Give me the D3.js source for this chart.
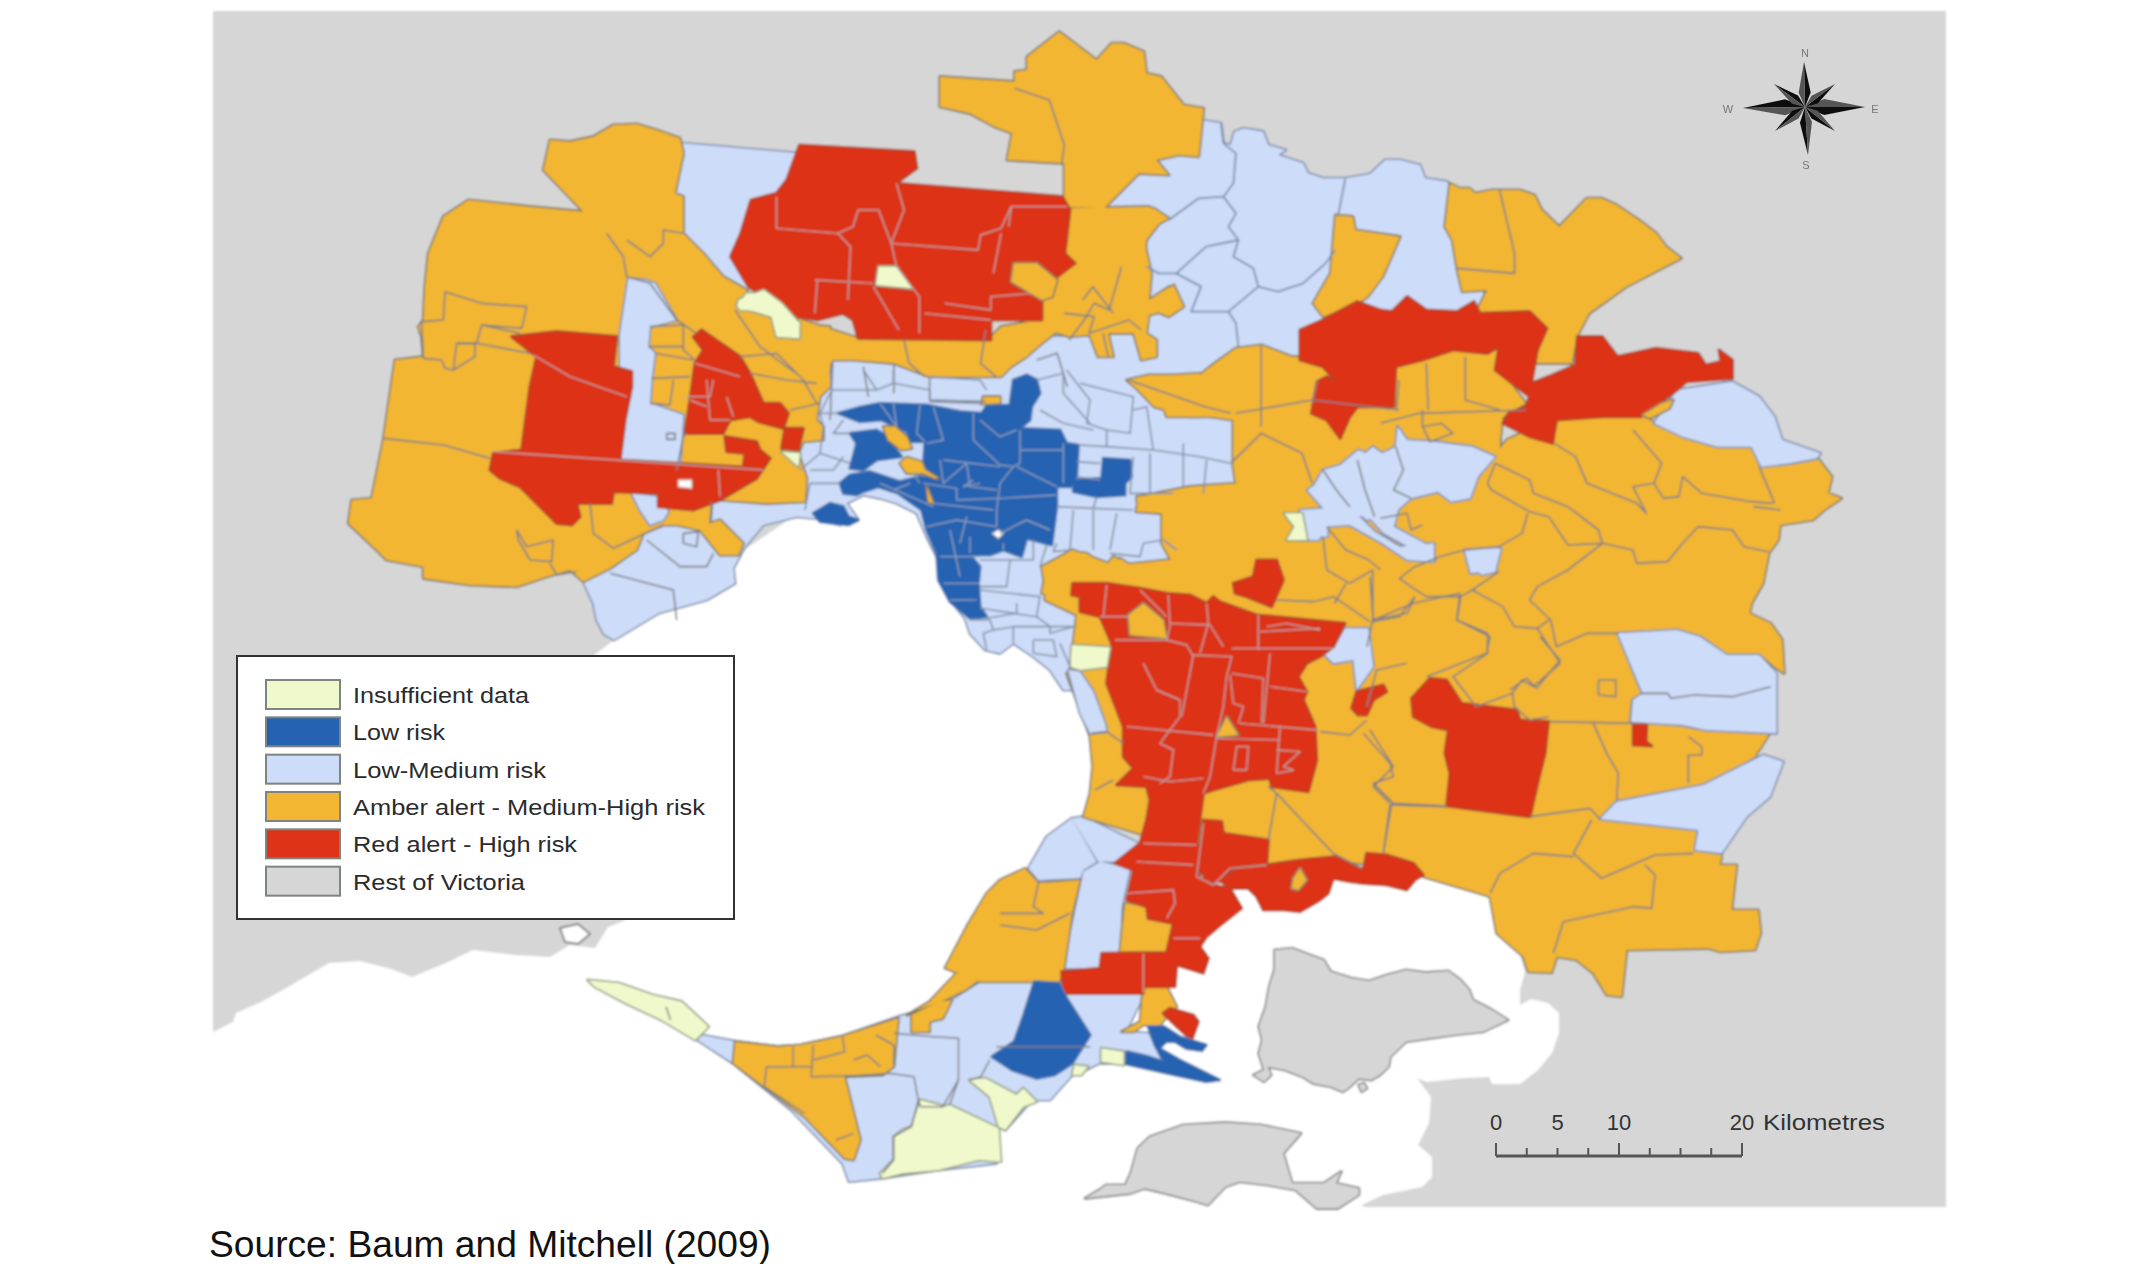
<!DOCTYPE html>
<html>
<head>
<meta charset="utf-8">
<title>Risk map of Melbourne</title>
<script src="https://cdn.jsdelivr.net/npm/d3@7"></script>
<style>
  html, body { margin: 0; padding: 0; background: #fff; }
  text { font-family: "Liberation Sans", Arial, sans-serif; }
</style>
</head>
<body>
<div id="map"></div>
<script>
// legend
var riskClasses = ["none", "low", "lowmed", "amber", "red", "rest"];
var riskLabels = ["Insufficient data", "Low risk", "Low-Medium risk", "Amber alert - Medium-High risk", "Red alert - High risk", "Rest of Victoria"];
var riskColors = ["#f0f9cb", "#2662b2", "#cddcf8", "#f2b632", "#de3318", "#d6d6d6"];
var riskStrokes = ["#8f9a80", "#4f78ad", "#7d8ead", "#7f7a68", "#a84a32", "#85858a"];

// scale bar
var kmTicks = [0, 2.5, 5, 7.5, 10, 12.5, 15, 17.5, 20];
var kmMajor = [0, 10, 20];
var kmLabels = [0, 5, 10, 20];
var kmUnit = "Kilometres";
var sourceNote = "Source: Baum and Mitchell (2009)";

var seaOutline = [213,1032, 233,1022, 236,1013, 261,1002, 281,991, 305,977, 329,963, 360,961, 391,969, 412,977, 446,963, 473,950, 515,955, 550,957, 570,945, 595,948, 608,927, 626,920, 640,900, 620,700, 593,656, 614,640, 700,580, 800,512, 870,495, 925,510, 945,560, 960,600, 980,635, 1020,640, 1055,668, 1080,680, 1090,715, 1098,767, 1095,810, 1120,860, 1300,870, 1400,870, 1470,875, 1500,890, 1525,972, 1520,990, 1520,1005, 1531,999, 1548,1003, 1559,1013, 1559,1033, 1552,1053, 1538,1070, 1520,1084, 1492,1084, 1489,1077, 1464,1078, 1446,1080, 1427,1082, 1417,1078, 1431,1097, 1429,1123, 1418,1145, 1432,1157, 1432,1177, 1422,1187, 1383,1195, 1362,1205, 1366,1210, 213,1210];
var inletBlob = [560,928, 578,924, 590,934, 578,944, 565,942];
var islandsRest = [
  [640,150, 690,145, 740,165, 780,180, 800,215, 860,235, 910,243, 960,225, 1015,210, 1070,218, 1135,213, 1170,240, 1195,270, 1205,300, 1260,330, 1305,360, 1235,395, 1150,405, 1080,415, 1015,425, 970,470, 965,500, 940,525, 915,540, 880,535, 855,560, 835,575, 800,560, 750,550, 720,530, 670,510, 620,500, 630,525, 610,545, 580,525, 610,510, 595,460, 605,420, 595,380, 615,320, 625,260, 640,210],
  [100,895, 140,870, 160,855, 215,855, 230,820, 250,745, 285,710, 380,675, 500,668, 600,675, 715,700, 665,760, 690,850, 780,850, 830,815, 815,850, 880,865, 880,885, 820,925, 760,925, 700,870, 620,855, 540,845, 500,860, 450,915, 420,905, 330,880, 270,865, 230,880],
  [880,555, 895,550, 903,565, 888,575]
];

var lowmedNorth = [[565,300, 605,310, 610,370, 625,375, 632,335, 650,325, 690,335, 700,375, 735,390, 720,405, 770,430, 780,460, 810,475, 855,475, 905,462, 935,420, 965,420, 1005,435, 1015,475, 1060,485, 1150,900, 760,1020, 360,1020, 360,560]];
var lowmedWestTop = [[1060,70, 1410,100, 1400,400, 1250,510, 1180,470, 1060,340, 1030,220, 1055,70]];
var lowmedSouthWest = [[760,1385, 790,1450, 800,1500, 822,1542, 852,1560, 987,1479, 1130,1440, 1215,1390, 1210,1345, 1245,1280, 1300,1215, 1400,1190, 1500,1200, 1500,1100, 1150,1100, 1000,1200]];
var lowmedMetro = [[-100,-100, 1350,-100, 1350,960, 790,960, 750,900, 700,860, 640,820, 600,850, 555,840, 510,790, 495,745, 450,690, 420,630, 415,570, 380,500, 350,430, 290,400, 240,385, 190,375, 140,400, 175,450, 120,465, 60,450, 40,425, 0,430, -100,440]];
var lowmedBays = [
  [85,925, 140,830, 215,775, 290,905, 250,930, 240,955, 115,960],
  [215,775, 250,770, 415,850, 345,905, 295,905],
  [250,935, 300,905, 390,925, 365,1040, 360,1175, 300,1180, 300,1225, 190,1225, 245,960]
];
var lowmedPeninsula = [[340,345, 420,365, 510,380, 560,375, 650,350, 780,290, 890,250, 985,170, 1145,185, 1145,225, 1330,225, 1290,335, 1340,340, 1370,420, 1290,395, 1285,430, 1230,430, 1200,450, 1170,465, 1120,540, 1080,540, 1020,630, 1005,620, 1000,730, 870,750, 740,775, 670,785, 655,730, 540,570, 410,430, 330,360]];

var amberWest = [[640,150, 660,60, 720,65, 790,50, 850,15, 920,12, 980,30, 1050,55, 1060,100, 1035,220, 1060,230, 1060,340, 1120,400, 1180,470, 1250,510, 1260,600, 1500,620, 1500,800, 1470,830, 1460,900, 1480,920, 1480,960, 1420,965, 1405,1000, 1430,1075, 1425,1145, 1310,1150, 1170,1140, 1145,1150, 1140,1210, 1170,1200, 1240,1270, 1225,1305, 1170,1305, 1110,1230, 1040,1215, 1000,1215, 940,1240, 920,1290, 890,1310, 840,1345, 760,1385, 720,1350, 650,1370, 560,1400, 420,1395, 280,1375, 280,1340, 170,1320, 140,1290, 55,1210, 65,1140, 125,1135, 160,960, 195,720, 280,710, 275,650, 265,620, 280,600, 285,500, 295,400, 340,290, 415,240, 600,260, 760,275]];
var amberNorthBand = [
  [0,500, 70,580, 200,660, 310,715, 565,720, 590,680, 670,660, 710,590, 690,530, 720,490, 710,400, 730,325, 880,320, 910,350, 875,420, 870,490, 880,600, 920,560, 945,620, 880,645, 875,700, 895,720, 895,770, 865,780, 850,700, 800,700, 810,770, 780,770, 760,690, 720,670, 670,730, 640,770, 610,800, 590,830, 550,830, 450,830, 380,790, 300,780, 260,780, 240,840, 220,880, 200,1010, 0,1010],
  [840,840, 880,825, 960,850, 1000,800, 1050,745, 1100,735, 1160,770, 1568,770, 1568,1500, 680,1500, 670,1400, 730,1350, 800,1390, 810,1370, 880,1420, 930,1400, 905,1330, 905,1240, 855,1235, 860,1190, 960,1160, 1050,1150, 1045,1100, 1045,960, 1000,950, 960,950, 890,920]
];
var amberTop = [
  [40,170, 190,185, 190,155, 215,150, 215,110, 280,35, 355,120, 385,70, 410,70, 450,95, 455,160, 485,170, 530,255, 570,265, 560,410, 520,405, 475,420, 500,465, 440,460, 370,565, 290,560, 290,430, 175,420, 185,340, 150,320, 100,280, 40,260],
  [300,565, 470,565, 500,595, 470,620, 450,660, 465,760, 460,850, 510,795, 530,860, 500,890, 455,860, 450,930, 300,950, 200,900, 285,700],
  [835,585, 870,590, 875,630, 965,650, 930,770, 900,830, 880,850, 810,890, 790,850, 825,760],
  [1065,490, 1085,505, 1105,505, 1115,520, 1150,510, 1205,510, 1235,525, 1250,570, 1285,620, 1340,535, 1370,535, 1400,555, 1445,600, 1480,640, 1500,680, 1530,715, 1420,800, 1345,880, 1320,950, 1310,1030, 1070,1030, 1100,990, 1120,870, 1140,810, 1090,815, 1080,750, 1070,660, 1055,620]
];
var amberEast = [
  [250,350, 320,330, 400,300, 490,310, 590,460, 530,500, 520,600, 500,620, 450,600, 350,570, 260,540, 210,610, 150,570, 130,500, 250,470],
  [540,570, 670,500, 790,500, 900,500, 930,520, 1000,560, 1090,590, 1180,590, 1200,650, 1280,640, 1350,620, 1390,680, 1380,730, 1415,745, 1370,780, 1340,810, 1255,825, 1250,870, 1225,910, 1210,1000, 1180,1060, 1175,1090, 1230,1120, 1260,1170, 1265,1270, 1240,1250, 1205,1215, 1115,1215, 1045,1160, 990,1140, 830,1150, 880,1300, 895,1330, 865,1350, 860,1415, 1000,1430, 1060,1445, 1230,1445, 1200,1500, 1000,1600, 0,1600, 0,870, 130,820, 280,760, 400,740, 440,745, 500,630]
];
var amberMetro = [
  [725,670, 740,590, 800,590, 805,545, 860,550, 880,565, 945,605, 960,565, 1010,600, 1130,620, 1200,680, 1200,780, 830,800, 830,730, 795,690],
  [1010,380, 1130,378, 1170,350, 1200,350, 1200,680, 1135,630, 1130,560, 1085,480, 1100,420, 1015,420],
  [980,30, 1050,15, 1120,15, 1200,10, 1200,140, 1100,140, 1090,110, 1040,80],
  [550,80, 600,80, 600,100, 545,102]
];
var amberSouth = [
  [220,30, 500,0, 1500,0, 1500,1000, 1270,945, 1220,930, 1010,900, 800,915, 590,900, 450,830, 250,770, 270,700, 278,620, 270,530, 240,450, 200,340, 210,335, 220,250, 230,165, 135,120, 140,30],
  [-40,1000, 0,960, 75,925, 115,970, 240,960, 215,1065, 190,1240, 175,1265, -60,1265, -165,1224, -100,1100],
  [375,1030, 440,1040, 440,1080, 525,1085, 500,1175, 360,1175],
  [430,1280, 500,1280, 530,1340, 500,1370, 480,1395, 430,1395, 400,1415, 365,1415, 420,1385]
];
var amberSouthEast = [[0,320, 850,310, 1020,330, 1130,325, 1250,345, 1215,410, 1130,460, 1060,495, 800,545, 755,595, 1045,630, 1035,690, 1115,705, 1110,735, 1160,735, 1145,870, 1225,870, 1232,940, 1215,990, 1110,995, 1075,985, 830,990, 815,1130, 770,1125, 730,1060, 680,1020, 620,1010, 605,1058, 535,1055, 520,1010, 440,940, 420,830, 405,825, 220,770, 100,700, 0,690]];
var amberPeninsula = [
  [415,365, 510,380, 560,375, 650,350, 780,295, 770,440, 745,465, 660,470, 695,660, 680,720, 660,715, 570,590, 480,500, 410,430],
  [810,285, 870,245, 900,240, 880,295, 850,305, 850,335, 810,335],
  [910,160, 975,165, 930,210, 875,245, 820,270, 800,285, 850,245]
];

// pockets of low-medium that sit inside the amber masses
var lowmedOverWest = [
  [895,475, 945,480, 975,490, 1040,600, 960,620, 955,680, 975,700, 965,780, 960,850, 1060,885, 1050,1040, 870,1020, 870,640],
  [905,1120, 985,1130, 1015,1175, 1000,1200, 960,1215, 930,1170]
];
var lowmedOverEast = [
  [255,530, 280,570, 350,575, 450,590, 510,620, 465,680, 445,745, 395,755, 360,725, 290,745, 250,785, 175,810, 130,770, 70,725, 30,720, 60,660, 150,630, 190,590, 215,610, 250,590],
  [0,780, 130,770, 195,845, 260,890, 350,880, 350,935, 280,930, 215,880, 130,825, 60,830, 50,870, 0,870],
  [430,900, 525,895, 510,965, 475,975, 440,945],
  [830,1150, 985,1140, 1045,1160, 1115,1215, 1200,1215, 1245,1270, 1245,1450, 1060,1440, 1000,1425, 865,1415, 870,1350, 895,1330],
  [1130,395, 1200,440, 1240,500, 1260,570, 1360,610, 1350,625, 1280,640, 1205,650, 1180,590, 1090,590, 1000,560, 925,520, 985,420]
];
var lowmedOverNorth = [
  [1190,1170, 1220,1140, 1290,1050, 1340,1080, 1360,1130, 1340,1170, 1370,1220, 1360,1280, 1420,1330, 1440,1380, 1400,1350, 1340,1300, 1310,1250, 1230,1240],
  [1190,1230, 1230,1240, 1230,1310, 1190,1310],
  [1500,1350, 1560,1345, 1560,1410, 1510,1420]
];
var lowmedOverSouth = [
  [1035,205, 1105,205, 1120,320, 1070,390, 1060,300, 1000,310, 970,280, 1010,250],
  [205,330, 240,335, 280,395, 315,490, 320,515, 270,520, 240,460]
];
var lowmedOverSouthEast = [[750,597, 800,545, 1060,495, 1240,405, 1300,425, 1260,530, 1190,590, 1115,700, 1035,690, 1045,630]];

var redWest = [
  [545,650, 680,635, 860,650, 850,740, 905,755, 905,800, 885,900, 870,1020, 1300,1045, 1280,1075, 1170,1140, 1090,1170, 985,1160, 985,1120, 850,1115, 845,1150, 740,1150, 750,1190, 725,1215, 680,1210, 620,1150, 570,1100, 510,1075, 480,1050, 490,1000, 575,990, 600,800, 620,710],
  [1115,630, 1230,710, 1260,760, 1300,850, 1350,850, 1375,880, 1360,925, 1285,905, 1260,890, 1200,900, 1180,940, 1065,940, 1080,840, 1095,730, 1120,690, 1090,650],
  [1365,925, 1420,925, 1405,990, 1355,985],
  [1185,950, 1280,965, 1290,990, 1320,1015, 1300,1045, 1240,1040, 1245,1000, 1190,995]
];
var redNorth = [[195,135, 420,155, 425,205, 385,250, 710,290, 725,330, 715,460, 735,490, 700,530, 660,490, 615,490, 610,540, 670,590, 670,660, 570,660, 570,720, 310,715, 300,660, 280,640, 230,660, 190,650, 95,560, 60,470, 80,400, 100,300, 150,280, 170,240]];
var redEast = [[0,240, 60,210, 150,155, 210,180, 240,185, 280,140, 330,180, 410,185, 455,155, 470,190, 600,185, 645,235, 620,300, 605,400, 660,375, 720,345, 725,260, 790,260, 830,320, 930,295, 1040,310, 1060,345, 1100,335, 1095,300, 1130,330, 1130,385, 1010,395, 985,420, 940,460, 890,500, 790,500, 670,510, 660,580, 600,560, 530,520, 545,490, 590,470, 600,440, 510,360, 520,290, 490,310, 400,300, 320,330, 250,350, 245,470, 150,470, 130,500, 105,565, 70,510, 30,490, 45,395, 70,380, 100,400, 60,350, 0,330]];
var redSouth = [
  [218,70, 320,70, 420,85, 500,100, 570,105, 620,130, 640,110, 660,125, 770,165, 1035,190, 1000,260, 960,290, 920,310, 895,350, 920,395, 910,420, 945,500, 950,600, 925,695, 815,680, 810,655, 745,660, 640,690, 610,700, 590,850, 600,860, 590,910, 600,955, 640,975, 690,985, 725,1045, 655,1100, 620,1130, 600,1160, 625,1195, 610,1240, 530,1215, 525,1280, 430,1280, 430,1300, 190,1300, 185,1235, 300,1225, 305,1180, 500,1178, 520,1090, 445,1075, 440,1040, 380,1020, 400,930, 345,910, 420,850, 440,780, 450,720, 440,680, 350,675, 400,625, 370,590, 370,500, 320,370, 335,250, 300,170, 240,155, 240,110, 215,105],
  [610,780, 665,785, 670,820, 805,840, 800,910, 700,920, 665,965, 620,965, 590,910, 600,860],
  [665,965, 710,925, 800,915, 900,900, 1010,890, 1090,930, 1100,880, 1160,885, 1240,910, 1270,945, 1245,960, 1220,990, 1160,975, 1090,970, 1050,965, 1000,955, 985,1000, 960,1020, 900,1055, 850,1050, 790,1050, 770,1010, 745,985, 690,985],
  [700,70, 760,50, 770,0, 830,0, 850,60, 815,140, 740,110, 705,100],
  [1055,445, 1070,395, 1150,375, 1160,395, 1120,420, 1100,465, 1075,465],
  [490,1360, 510,1345, 580,1365, 595,1385, 575,1440, 530,1400]
];
var redSouthEast = [
  [240,175, 290,180, 335,250, 500,270, 510,300, 595,305, 585,400, 565,480, 540,590, 290,558, 300,460, 285,400, 295,330, 245,320, 190,290, 185,235],
  [850,315, 890,315, 888,365, 905,378, 850,375]
];

// amber that is left standing inside the red
var amberOverNorth = [[615,490, 660,490, 700,540, 690,590, 670,600, 610,545]];
var amberOverSouth = [
  [385,165, 430,130, 490,180, 500,235, 390,225],
  [650,530, 680,470, 715,525],
  [880,955, 900,925, 920,960, 895,990, 875,985]
];
var amberOverEast = [[895,495, 945,460, 975,450, 965,475, 915,505]];
var amberOverMetro = [
  [250,170, 285,170, 320,200, 335,235, 305,240, 265,210],
  [300,280, 320,262, 365,275, 375,300, 415,325, 405,325, 370,310, 320,310],
  [380,350, 400,400, 385,395]
];

var lowMetro = [
  [115,130, 180,112, 240,100, 380,105, 480,125, 545,130, 560,108, 630,105, 640,30, 680,15, 710,30, 720,70, 695,110, 690,150, 660,175, 780,180, 800,220, 835,225, 830,320, 815,350, 770,350, 770,410, 755,525, 680,505, 665,560, 610,540, 570,555, 510,555, 540,590, 535,640, 540,710, 560,740, 510,745, 450,695, 415,630, 410,550, 380,480, 365,420, 295,370, 235,350, 190,365, 170,375, 130,370, 120,340, 150,315, 210,305, 300,335, 360,320, 405,325, 370,290, 375,215, 330,215, 320,185, 245,150, 180,155],
  [150,190, 230,180, 255,195, 265,210, 305,260, 230,270, 190,300, 150,295, 165,240, 170,220],
  [40,430, 90,400, 130,410, 145,440, 175,450, 145,465, 100,460, 60,455],
  [820,330, 905,325, 910,265, 990,270, 995,320, 975,340, 975,375, 890,380, 820,365]
];
var lowMetroHole = [[575,490, 595,478, 612,490, 595,507]];
var lowPeninsula = [
  [1085,185, 1140,190, 1155,230, 1210,345, 1170,430, 1130,465, 1090,475, 1035,450, 990,410, 1040,365, 1060,290],
  [1340,320, 1375,320, 1410,350, 1470,375, 1460,392, 1425,385, 1400,365, 1380,365, 1365,385, 1410,420, 1500,480, 1470,485, 1400,465, 1290,432, 1292,395, 1340,410, 1375,425, 1355,375]
];

var noneWest = [
  [1220,555, 1250,520, 1310,520, 1340,570, 1410,610, 1395,655, 1340,640, 1320,575, 1230,570],
  [1355,995, 1410,1000, 1405,1040]
];
var noneNorth = [
  [350,500, 385,500, 415,565, 345,555],
  [75,600, 125,570, 160,610, 195,670, 195,715, 150,710, 140,650, 75,620],
  [1145,1240, 1180,1240, 1190,1320, 1150,1320, 1165,1280]
];
var noneSouth = [[215,255, 330,262, 320,320, 240,330, 212,320]];
var nonePeninsula = [
  [85,180, 155,190, 230,225, 295,245, 355,320, 325,360, 250,300, 170,250, 100,200],
  [740,760, 770,720, 770,650, 790,630, 810,620, 830,540, 885,560, 895,555, 1005,625, 1010,725, 960,720, 870,750, 790,760, 745,775],
  [940,480, 975,475, 1045,525, 1060,505, 1090,545, 1060,560, 1020,630, 1005,620, 985,530],
  [1175,435, 1205,440, 1190,465, 1170,465],
  [1235,385, 1285,395, 1285,435, 1235,425]
];
var westHole = [[1045,1080, 1085,1080, 1085,1105, 1045,1100]];

// boundaries inside the classes
var bordersNorthLight = [
  [605,310, 610,370, 635,400, 630,490, 610,530, 635,580, 620,620, 640,660, 630,710, 670,745, 680,800, 720,815, 770,790, 815,730, 835,690],
  [610,530, 560,535, 500,600],
  [640,660, 575,680, 515,760, 480,760, 455,740],
  [515,760, 565,800, 545,875, 620,875, 680,800],
  [620,875, 635,910, 640,980],
  [855,475, 840,590]
];
var bordersNorthAmber = [
  [190,205, 260,240, 290,375, 285,430],
  [1165,510, 1195,700, 1195,760, 1080,745],
  [300,960, 330,900, 350,850, 380,870, 405,740],
  [290,880, 350,890, 340,940, 420,900, 445,930]
];
var bordersWest = [
  [160,955, 340,975, 480,1015],
  [1145,1145, 1140,1210],
  [345,515, 440,545, 455,550, 590,560, 575,625, 455,615, 440,670, 380,670, 370,750, 345,745, 335,720, 280,715, 275,605, 340,600, 345,515],
  [455,615, 570,640],
  [440,670, 600,700],
  [380,670, 435,670, 435,710, 370,750],
  [560,1230, 590,1280, 670,1260, 665,1325, 600,1320, 565,1260, 560,1230],
  [780,1150, 790,1240, 850,1285, 1000,1215],
  [660,1330, 680,1365, 740,1355],
  [830,340, 880,410, 890,470, 960,490, 1040,600, 1100,640],
  [890,360, 960,410, 1000,370, 1000,330, 1060,340],
  [960,620, 1060,615, 1060,690, 1095,720],
  [955,680, 1060,680],
  [975,700, 1090,720],
  [965,775, 1080,770],
  [960,850, 1020,855, 1030,780],
  [1040,1050, 1060,950, 1070,940],
  [1230,710, 1340,700, 1420,780, 1460,850],
  [1260,760, 1370,780, 1460,790],
  [1380,870, 1470,850],
  [1215,570, 1290,680, 1370,740, 1400,760],
  [840,1360, 1030,1410, 1040,1500],
  [950,1260, 1050,1340, 1130,1340, 1150,1300],
  [1060,1240, 1105,1235, 1100,1280, 1060,1270, 1060,1240],
  [1010,940, 1035,940, 1035,958, 1010,958, 1010,940]
];
var bordersWestRed = [
  [610,705, 720,770, 890,830],
  [490,995, 1300,1050],
  [1165,1050, 1170,1130],
  [1095,730, 1230,770],
  [1130,780, 1140,900, 1200,900],
  [1150,780, 1140,830, 1065,830],
  [1190,830, 1210,890],
  [1080,840, 1130,860]
];
var bordersEast = [
  [510,640, 600,690, 610,730, 700,770, 780,840, 790,880, 700,885, 650,800, 600,785, 500,720, 490,700, 510,640],
  [665,580, 720,620, 750,700, 880,760, 905,790, 870,710, 925,700, 945,640, 870,540],
  [925,700, 950,745, 990,740, 1000,680, 1050,730, 1180,755, 1235,760],
  [1185,770, 1255,780],
  [1200,650, 1240,760],
  [790,880, 870,900, 880,940, 960,935, 1000,880, 1040,830, 1130,840, 1160,890, 1225,905],
  [790,880, 700,960, 620,1010, 600,1050, 655,1110, 670,1190, 750,1150, 830,1150],
  [595,790, 580,850, 520,890, 430,900, 365,920],
  [520,965, 450,1020, 530,1070, 560,1130, 620,1135, 650,1110],
  [450,1020, 420,1040, 330,1040, 290,1010, 260,985, 300,950, 365,920],
  [420,1040, 410,1110, 490,1150, 490,1210, 400,1280, 460,1370, 555,1330, 560,1370, 600,1410, 650,1400],
  [175,1190, 190,1110, 280,1090, 300,1040],
  [620,1135, 680,1240, 610,1310, 580,1290, 555,1330],
  [210,520, 310,490, 590,480],
  [320,480, 320,530, 370,520, 400,550, 340,575, 320,530],
  [330,340, 335,480],
  [780,1290, 825,1290, 825,1340, 780,1335, 780,1290],
  [890,1330, 960,1330, 970,1345, 1030,1335, 1130,1340, 1230,1310],
  [210,805, 280,790, 290,840, 320,825],
  [60,860, 70,960, 130,1000, 190,960],
  [190,960, 190,1120],
  [70,830, 120,900, 180,930, 210,960],
  [90,1060, 120,1000],
  [300,1040, 260,1100, 190,1115],
  [60,660, 95,720, 130,770],
  [150,630, 170,720, 195,800],
  [250,590, 270,660, 245,720, 290,745]
];
var bordersSouthEast = [
  [730,310, 770,400, 805,460, 800,540],
  [1015,350, 1055,380, 1055,405, 1015,405, 1015,490],
  [125,550, 100,700],
  [725,600, 670,700],
  [670,700, 755,775, 915,705, 1030,700],
  [885,735, 915,765, 905,865, 850,860, 640,905, 610,1000],
  [420,820, 450,760, 550,700, 670,710],
  [40,340, 120,430, 130,470, 70,490, 130,550],
  [480,210, 530,175, 560,205, 630,120, 570,50],
  [540,590, 720,565, 750,597],
  [290,558, 125,550],
  [600,305, 850,310]
];
var bordersSouth = [
  [320,75, 310,170],
  [300,170, 385,170],
  [420,90, 500,170],
  [505,105, 510,200, 500,240],
  [620,130, 625,190, 600,280],
  [510,190, 630,195, 670,260],
  [775,165, 775,270],
  [780,215, 960,205],
  [345,240, 500,240, 560,255, 580,290],
  [430,310, 470,390, 540,420, 540,470, 480,550, 520,570, 510,650, 480,670],
  [580,285, 545,470],
  [580,285, 695,290, 680,350, 670,440, 650,530, 630,650, 610,700],
  [695,265, 1000,265],
  [695,340, 790,355, 785,490],
  [810,280, 790,490],
  [690,345, 700,430, 730,440, 715,490],
  [380,500, 640,525],
  [720,490, 950,510],
  [840,500, 830,640],
  [650,535, 840,540],
  [700,630, 710,560, 745,560, 740,630, 700,630],
  [830,570, 900,575, 850,620, 880,630, 830,640],
  [430,650, 510,665, 610,655],
  [430,850, 590,855],
  [410,905, 580,915],
  [610,790, 590,950, 640,975, 690,925, 800,915],
  [380,1000, 520,990, 525,1030, 500,1075],
  [430,1180, 430,1300],
  [520,1135, 600,1135],
  [810,380, 920,395],
  [800,200, 860,190, 960,210]
];
var bordersSouthAmber = [
  [830,700, 905,780, 1000,880, 1085,925],
  [1170,735, 1150,880],
  [1170,735, 1340,740],
  [1110,510, 1180,620, 1120,680, 1170,730],
  [960,515, 1050,525, 1100,480],
  [1220,310, 1130,330, 1100,440],
  [830,120, 940,125, 1000,110, 1110,185],
  [1110,50, 1120,180, 1240,130, 1380,100],
  [1380,100, 1370,180, 1470,230, 1460,280, 1280,350],
  [275,520, 320,515, 370,550],
  [285,690, 340,660],
  [115,970, 100,1040, 130,1060, 0,1060],
  [210,1060, 110,1110, 0,1095],
  [805,680, 830,700, 805,840]
];
var bordersNorthRed = [
  [150,290, 150,385, 270,400, 300,380, 310,330, 350,330, 375,430, 385,500, 430,590, 430,700],
  [270,400, 295,440, 290,600],
  [375,430, 545,450, 550,405, 590,385, 610,320, 720,320],
  [385,250, 400,330, 375,430],
  [230,540, 225,640],
  [225,540, 340,550],
  [340,560, 390,690],
  [440,640, 570,660],
  [480,610, 570,630, 570,590, 650,580],
  [575,520, 590,400],
  [610,320, 605,380]
];
var bordersNorthBand = [
  [260,790, 255,960],
  [320,800, 330,890],
  [380,790, 380,880],
  [450,835, 450,900, 560,905],
  [660,780, 700,760, 720,860],
  [400,720, 410,790, 440,830],
  [560,690, 550,790, 580,830],
  [790,700, 800,770],
  [750,600, 770,560, 810,640],
  [840,840, 990,920, 1040,940],
  [1100,735, 1100,980],
  [1050,940, 1200,900, 1370,930],
  [1370,840, 1365,930],
  [1210,840, 1200,910],
  [1040,1090, 1100,1000, 1180,1060, 1200,1150],
  [1500,770, 1500,900, 1568,930]
];
var bordersMetroLight = [
  [90,0, 95,60, 60,130, 70,170, 60,250],
  [190,0, 230,60, 280,40, 280,0],
  [95,60, 230,60],
  [280,40, 390,60, 390,95, 540,100],
  [390,20, 540,30, 560,60],
  [710,30, 790,10, 790,70, 870,160],
  [800,0, 870,90, 860,160, 920,180, 920,230],
  [840,40, 1000,80, 990,190, 920,180],
  [1000,120, 1040,110, 1060,240, 1200,260],
  [835,225, 920,230, 1060,240],
  [720,120, 790,160, 880,180],
  [1000,260, 990,370, 1120,370],
  [1050,250, 1050,370],
  [1150,220, 1150,350],
  [1200,260, 1290,280],
  [1220,270, 1210,370],
  [830,275, 900,280],
  [830,320, 900,330],
  [770,410, 880,415, 1000,420],
  [880,415, 890,380],
  [820,420, 810,540, 760,545, 770,520],
  [950,430, 930,540],
  [880,540, 880,420],
  [1030,520, 1090,510, 1130,540],
  [1030,520, 1020,560, 930,550],
  [700,510, 700,570, 540,570],
  [740,525, 720,590],
  [630,570, 620,650, 540,650],
  [540,660, 720,680, 710,740, 540,715],
  [650,700, 650,730, 560,745],
  [510,750, 570,750, 580,780, 550,790, 560,840],
  [580,780, 640,770, 640,820],
  [640,770, 820,770],
  [710,740, 750,770, 750,790, 820,770],
  [700,810, 760,810, 770,860, 700,850, 700,810],
  [780,820, 810,890],
  [0,300, 60,250, 150,280],
  [50,130, 115,130],
  [15,420, 30,340, 120,340],
  [30,300, 100,300, 130,260],
  [130,150, 100,190, 150,190],
  [340,310, 360,340]
];
var bordersMetroBlue = [
  [240,100, 290,170, 280,100],
  [360,105, 350,190, 375,215],
  [400,110, 430,210, 380,220],
  [520,130, 520,210, 600,285, 640,290],
  [540,150, 600,200, 650,180],
  [660,180, 660,280, 640,290, 600,340, 590,420, 590,470],
  [660,240, 790,240],
  [790,220, 790,340],
  [650,290, 770,350],
  [430,270, 600,290],
  [420,270, 430,340, 500,280, 510,350, 590,360],
  [370,340, 470,355, 470,390, 600,385, 770,375],
  [400,400, 580,420],
  [380,470, 470,450, 590,470],
  [450,480, 480,620],
  [500,440, 480,520],
  [420,560, 540,560],
  [510,500, 510,550],
  [430,640, 540,640],
  [450,690, 530,690],
  [600,490, 680,450, 750,480],
  [610,520, 610,540],
  [240,340, 400,410],
  [280,360, 330,340],
  [520,330, 490,350, 540,340]
];
var bordersPeninsula = [
  [660,470, 760,460, 815,470, 825,540, 810,620, 770,650, 770,720, 745,760],
  [770,340, 860,350, 915,355, 915,480, 880,560, 830,560, 825,540],
  [985,420, 965,470, 940,480],
  [915,480, 895,555],
  [1000,380, 1210,380],
  [545,380, 545,440, 485,440, 480,500],
  [590,375, 585,470, 745,465],
  [545,440, 585,440],
  [590,420, 660,395, 655,350],
  [680,420, 710,405, 740,440],
  [730,345, 770,375, 770,440],
  [480,500, 570,580],
  [640,660, 680,640],
  [260,260, 270,300]
];

// sheets: one scale pair for each group of shapes above
function sheet(x0, y0, kx, ky) {
  return {
    x: d3.scaleLinear().domain([0, 1]).range([x0, x0 + 1 / kx]),
    y: d3.scaleLinear().domain([0, 1]).range([y0, y0 + 1 / ky])
  };
}
var page = sheet(0, 0, 1, 1);
var s4 = sheet(700, 100, 1.96, 3);
var s5 = sheet(330, 120, 3, 3);
var s6 = sheet(1300, 250, 2.613, 3);
var s7 = sheet(1000, 560, 3, 3);
var s8 = sheet(1350, 620, 3, 3);
var s9 = sheet(550, 920, 2.24, 3);
var s10 = sheet(1050, 900, 2.85, 3);
var s11 = sheet(920, 20, 2.01, 3);
var s12 = sheet(800, 370, 3, 3);

var fill = d3.scaleOrdinal(riskClasses, riskColors);
var edge = d3.scaleOrdinal(riskClasses, riskStrokes);

var svg = d3.select("#map").append("svg")
  .attr("width", 2152)
  .attr("height", 1264)
  .style("display", "block");

var defs = svg.append("defs");
defs.append("filter").attr("id", "soft")
  .append("feGaussianBlur").attr("stdDeviation", 0.8);
defs.append("filter").attr("id", "softer")
  .append("feGaussianBlur").attr("stdDeviation", 0.5);

var map = svg.append("g").attr("filter", "url(#soft)");

map.append("rect")
  .attr("x", 213).attr("y", 11)
  .attr("width", 1733).attr("height", 1196)
  .attr("fill", fill("rest"));

function pairs(flat) {
  return d3.range(0, flat.length, 2).map(function (i) { return [flat[i], flat[i + 1]]; });
}

function shapes(list, s, color, stroke, width, closed) {
  var line = d3.line()
    .x(function (d) { return s.x(d[0]); })
    .y(function (d) { return s.y(d[1]); })
    .curve(closed ? d3.curveLinearClosed : d3.curveLinear);
  map.append("g").selectAll("path")
    .data(list)
    .enter()
    .append("path")
    .attr("d", function (d) { return line(pairs(d)); })
    .attr("fill", closed ? color : "none")
    .attr("stroke", stroke)
    .attr("stroke-width", width)
    .attr("stroke-linejoin", "round");
}

// strokes first and fills over them, so only the outline of the union is left
function areas(cls, groups) {
  groups.forEach(function (g) { shapes(g[0], g[1], "none", edge(cls), 3.2, true); });
  groups.forEach(function (g) { shapes(g[0], g[1], fill(cls), "none", 0, true); });
}

// sea first, then land painted over it in class order
shapes([seaOutline], page, "#fff", "none", 0, true);
shapes([inletBlob], page, "#fff", "#85858a", 2, true);
areas("rest", [[islandsRest, s10]]);

areas("lowmed", [[lowmedNorth, s11], [lowmedWestTop, s5], [lowmedMetro, s12], [lowmedSouthWest, s5], [lowmedBays, s7], [lowmedPeninsula, s9]]);

areas("amber", [[amberWest, s5], [amberNorthBand, s4], [amberTop, s11], [amberEast, s6], [amberMetro, s12], [amberSouth, s7], [amberSouthEast, s8], [amberPeninsula, s9]]);

areas("lowmed", [[lowmedOverWest, s5], [lowmedOverEast, s6], [lowmedOverNorth, s4], [lowmedOverSouth, s7], [lowmedOverSouthEast, s8]]);

areas("red", [[redWest, s5], [redNorth, s4], [redEast, s6], [redSouth, s7], [redSouthEast, s8]]);

areas("amber", [[amberOverNorth, s4], [amberOverSouth, s7], [amberOverEast, s6]]);

areas("low", [[lowMetro, s12], [lowPeninsula, s9]]);
areas("amber", [[amberOverMetro, s12]]);
shapes(lowMetroHole, s12, "#fff", "#8a94a5", 1.5, true);

areas("none", [[noneWest, s5], [noneNorth, s4], [noneSouth, s7], [nonePeninsula, s9]]);
shapes(westHole, s5, "#fff", "#c9c3c0", 1.5, true);

var darkLine = "#7d7f85", lightLine = "#b7a2a2", blueLine = "#8e9db6";
shapes(bordersNorthLight, s11, null, "#7d8ead", 1.8, false);
shapes(bordersNorthAmber, s11, null, darkLine, 1.6, false);
shapes(bordersWest, s5, null, darkLine, 1.6, false);
shapes(bordersWestRed, s5, null, lightLine, 1.4, false);
shapes(bordersEast, s6, null, darkLine, 1.6, false);
shapes(bordersSouthEast, s8, null, darkLine, 1.6, false);
shapes(bordersSouthAmber, s7, null, darkLine, 1.6, false);
shapes(bordersSouth, s7, null, lightLine, 1.4, false);
shapes(bordersNorthRed, s4, null, lightLine, 1.4, false);
shapes(bordersNorthBand, s4, null, darkLine, 1.6, false);
shapes(bordersMetroLight, s12, null, "#8592a8", 1.6, false);
shapes(bordersMetroBlue, s12, null, blueLine, 1.4, false);
shapes(bordersPeninsula, s9, null, darkLine, 1.5, false);

// legend
var legend = svg.append("g");
legend.append("rect")
  .attr("x", 237).attr("y", 656)
  .attr("width", 497).attr("height", 263)
  .attr("fill", "#fff").attr("stroke", "#333").attr("stroke-width", 2);

var row = d3.scaleBand().domain(riskClasses).range([677, 901]);

var rows = legend.selectAll("g.row")
  .data(riskClasses)
  .enter()
  .append("g")
  .attr("class", "row")
  .attr("transform", function (d) { return "translate(0," + row(d) + ")"; });

rows.append("rect")
  .attr("x", 266).attr("y", 3)
  .attr("width", 74).attr("height", 29)
  .attr("fill", function (d) { return fill(d); })
  .attr("stroke", "#7e8480")
  .attr("stroke-width", 2);

rows.append("text")
  .attr("x", 353).attr("y", 26)
  .attr("font-size", 22)
  .attr("fill", "#2b2b2b")
  .attr("textLength", function (d, i) { return [176, 92, 193, 352, 224, 172][i]; })
  .attr("lengthAdjust", "spacingAndGlyphs")
  .text(function (d, i) { return riskLabels[i]; });

// scale bar
var km = d3.scaleLinear().domain([0, 20]).range([1496, 1742]);
var bar = svg.append("g").attr("stroke", "#555");

bar.append("line")
  .attr("x1", km(0)).attr("x2", km(20))
  .attr("y1", 1156).attr("y2", 1156)
  .attr("stroke-width", 3);

bar.selectAll("line.tick")
  .data(kmTicks)
  .enter()
  .append("line")
  .attr("class", "tick")
  .attr("x1", function (d) { return km(d); })
  .attr("x2", function (d) { return km(d); })
  .attr("y1", 1156)
  .attr("y2", function (d) { return kmMajor.indexOf(d) >= 0 ? 1143 : 1148; })
  .attr("stroke-width", 2);

svg.selectAll("text.km")
  .data(kmLabels)
  .enter()
  .append("text")
  .attr("class", "km")
  .attr("x", function (d) { return km(d); })
  .attr("y", 1130)
  .attr("text-anchor", "middle")
  .attr("font-size", 22)
  .attr("fill", "#333")
  .text(function (d) { return d; });

svg.append("text")
  .attr("x", 1763).attr("y", 1130)
  .attr("font-size", 22)
  .attr("fill", "#333")
  .attr("textLength", 122)
  .attr("lengthAdjust", "spacingAndGlyphs")
  .text(kmUnit);

// compass
var compass = svg.append("g")
  .attr("transform", "translate(1805,107)")
  .attr("filter", "url(#softer)");
var spikes = [[-1, -45, 6], [60, 0, 8], [3, 48, 6], [-62, 1, 8], [-31, -23, 5], [30, -23, 5], [30, 24, 5], [-30, 24, 5]];
spikes.forEach(function (s) {
  var len = Math.hypot(s[0], s[1]);
  var nx = -s[1] / len * s[2], ny = s[0] / len * s[2];
  var mx = s[0] * 0.32, my = s[1] * 0.32;
  compass.append("path")
    .attr("d", "M0,0L" + (mx + nx) + "," + (my + ny) + "L" + s[0] + "," + s[1] + "Z")
    .attr("fill", "#111");
  compass.append("path")
    .attr("d", "M0,0L" + (mx - nx) + "," + (my - ny) + "L" + s[0] + "," + s[1] + "Z")
    .attr("fill", "#555");
});
var compassLabels = [["N", 0, -50], ["S", 1, 62], ["W", -77, 6], ["E", 70, 6]];
compass.selectAll("text")
  .data(compassLabels)
  .enter()
  .append("text")
  .attr("x", function (d) { return d[1]; })
  .attr("y", function (d) { return d[2]; })
  .attr("text-anchor", "middle")
  .attr("font-size", 11)
  .attr("fill", "#777")
  .text(function (d) { return d[0]; });

// source line
svg.append("text")
  .attr("x", 209).attr("y", 1257)
  .attr("font-size", 36)
  .attr("fill", "#111")
  .attr("textLength", 562)
  .attr("lengthAdjust", "spacingAndGlyphs")
  .text(sourceNote);
</script>
</body>
</html>
